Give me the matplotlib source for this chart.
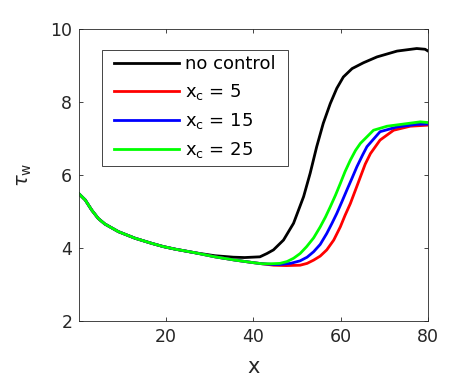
import matplotlib
matplotlib.use("Agg")
import matplotlib.pyplot as plt
from matplotlib.patches import Rectangle
import numpy as np

# shared upstream part (all four cases coincide here)
base_x = [0.15, 1.5, 3.0, 4.5, 6.0, 9.1, 12.9, 16.7, 19.4, 22.1, 26.7]
base_y = [5.48, 5.32, 5.04, 4.81, 4.66, 4.45, 4.27, 4.13, 4.04, 3.97, 3.87]

# no control
nc_x = [31.2, 35.4, 38.0, 41.5, 43.1, 44.6, 46.9, 49.2, 51.5, 53.0, 54.5, 56.0,
        57.6, 59.1, 60.6, 62.6, 65.2, 68.3, 72.9, 77.4, 79.3, 80.0]
nc_y = [3.79, 3.75, 3.74, 3.76, 3.85, 3.95, 4.22, 4.68, 5.41, 6.05, 6.78, 7.42,
        7.96, 8.38, 8.69, 8.92, 9.08, 9.24, 9.40, 9.47, 9.45, 9.40]

# controlled cases share the same path until about x = 42
ctl_x = [31.2, 35.8, 40.0, 42.0]
ctl_y = [3.76, 3.67, 3.60, 3.57]

x5_x = [44.6, 47.5, 50.7, 52.3, 53.8, 55.3, 56.8, 58.4, 59.9, 61.0, 62.2, 63.4,
        64.5, 65.6, 66.8, 69.0, 72.1, 75.9, 80.0]
x5_y = [3.53, 3.52, 3.53, 3.58, 3.67, 3.78, 3.95, 4.22, 4.58, 4.90, 5.22, 5.60,
        5.95, 6.30, 6.59, 6.96, 7.23, 7.34, 7.37]

x15_x = [44.6, 46.1, 48.5, 50.7, 52.3, 53.8, 55.3, 56.8, 58.0, 59.1, 60.3, 61.4,
         62.6, 63.7, 65.0, 66.0, 69.0, 72.9, 77.4, 80.0]
x15_y = [3.55, 3.55, 3.58, 3.65, 3.75, 3.90, 4.10, 4.40, 4.68, 4.95, 5.28, 5.59,
         5.92, 6.23, 6.55, 6.78, 7.19, 7.32, 7.39, 7.40]

x25_x = [44.0, 46.1, 47.7, 49.2, 50.7, 52.2, 53.8, 55.3, 56.5, 57.6, 58.8, 59.9,
         61.0, 62.2, 63.4, 64.5, 67.5, 70.6, 74.4, 78.2, 80.0]
x25_y = [3.57, 3.58, 3.63, 3.72, 3.85, 4.04, 4.28, 4.58, 4.85, 5.13, 5.45, 5.77,
         6.10, 6.41, 6.68, 6.87, 7.23, 7.34, 7.40, 7.46, 7.44]

labels = ["no control", r"x$_\mathregular{c}$ = 5",
          r"x$_\mathregular{c}$ = 15", r"x$_\mathregular{c}$ = 25"]

dark = "#262626"
plt.rcParams["font.family"] = "DejaVu Sans"
plt.rcParams["mathtext.fontset"] = "dejavusans"

fig = plt.figure(figsize=(4.72, 3.84), dpi=100)
ax = fig.add_axes([0.168, 0.164, 0.739, 0.760])

series = [
    (base_x + nc_x, base_y + nc_y, "black"),
    (base_x + ctl_x + x5_x, base_y + ctl_y + x5_y, "#ff0000"),
    (base_x + ctl_x + x15_x, base_y + ctl_y + x15_y, "#0000ff"),
    (base_x + ctl_x + x25_x, base_y + ctl_y + x25_y, "#00ff00"),
]
for (sx, sy, c), lab in zip(series, labels):
    ax.plot(sx, sy, color=c, linewidth=2, label=lab)

ax.set_xlim(0.15, 80)
ax.set_ylim(2, 10)
ax.set_xticks([20, 40, 60, 80])
ax.set_yticks([2, 4, 6, 8, 10])
ax.tick_params(direction="in", top=True, right=True, length=3, width=0.6,
               labelsize=12.5, colors=dark, pad=5)
for s in ax.spines.values():
    s.set_color(dark)
    s.set_linewidth(0.6)

ax.set_xlabel("x", fontsize=15, color=dark, labelpad=8)
ax.set_ylabel(r"$\tau_\mathregular{w}$", fontsize=14, color=dark, labelpad=12)

# legend without its own frame; a wider box (matlab-style padding) drawn under it
leg = ax.legend(loc="upper left", bbox_to_anchor=(0.084, 0.930), fontsize=13,
                handlelength=3.6, handletextpad=0.35, labelspacing=0.5,
                borderpad=0.3, borderaxespad=0, frameon=False)
leg.set_zorder(6)

fig.canvas.draw()
bb = leg.get_window_extent().transformed(fig.transFigure.inverted())
padx = 7 / 472
ax.add_patch(Rectangle((bb.x0 - padx, bb.y0), bb.width + 2 * padx, bb.height,
                       transform=fig.transFigure, facecolor="white",
                       edgecolor=dark, linewidth=0.6, zorder=5.5, clip_on=False))

fig.savefig("out.png", dpi=100)
